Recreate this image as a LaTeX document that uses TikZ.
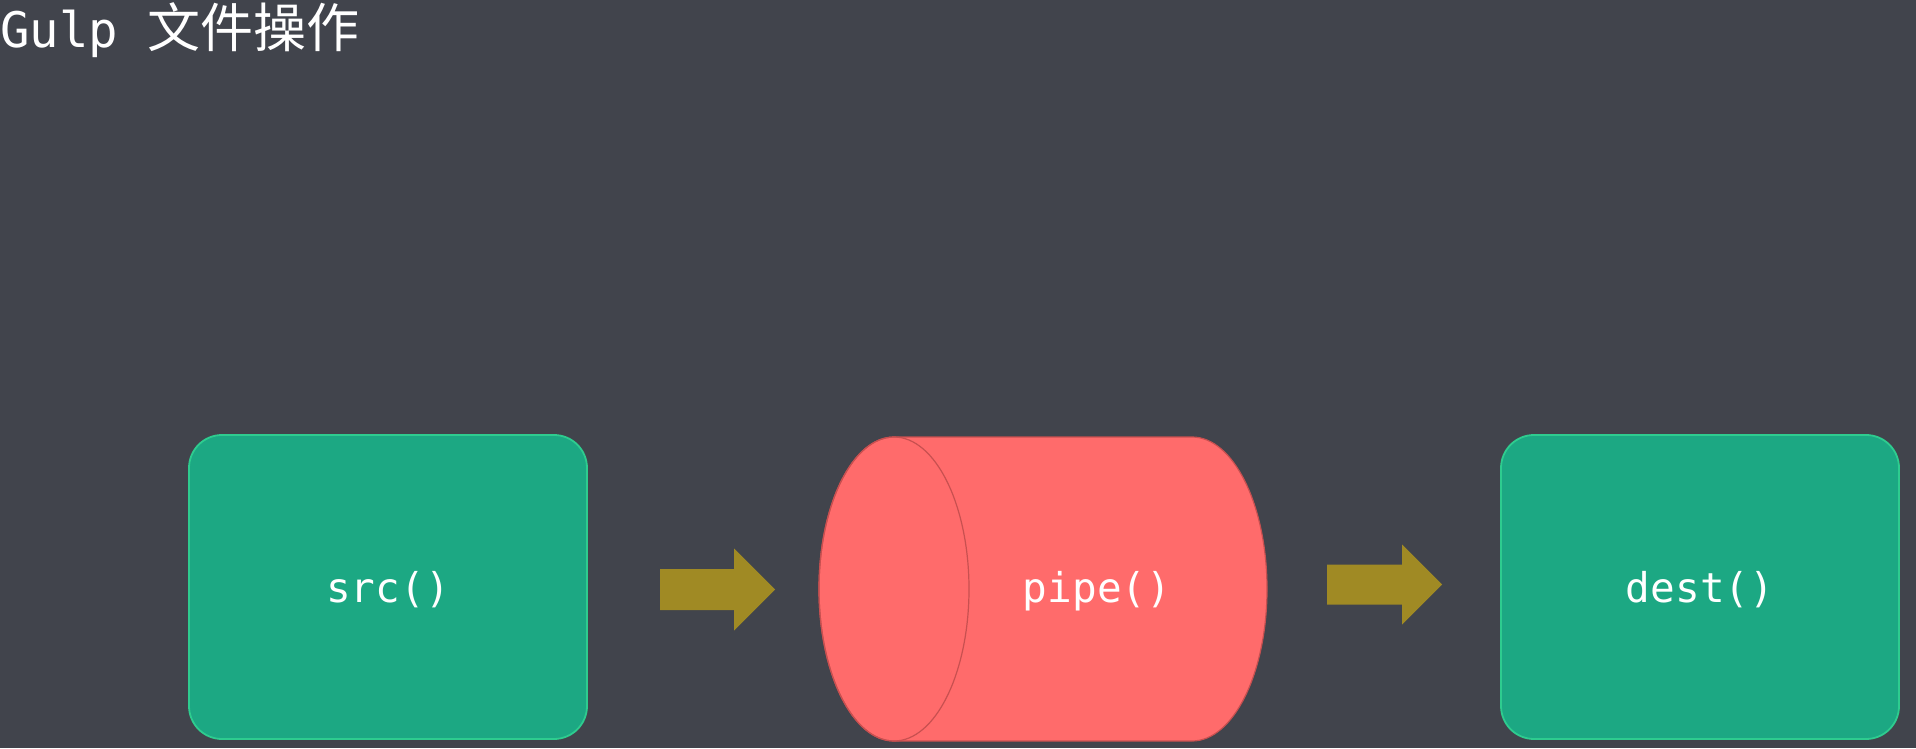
\documentclass[tikz,border=0pt]{standalone}
\usepackage{fontspec}
\setmonofont{DejaVu Sans Mono}
\newfontfamily\cjk{Noto Sans CJK SC}
\usepackage{tikz}
\usetikzlibrary{calc}

\definecolor{bgcol}{RGB}{65,68,76}
\definecolor{boxfill}{RGB}{28,168,131}
\definecolor{boxline}{RGB}{46,204,143}
\definecolor{cylfill}{RGB}{255,107,107}
\definecolor{cylline}{RGB}{200,80,80}
\definecolor{flowcol}{RGB}{160,138,36}

\begin{document}
\begin{tikzpicture}[x = 1pt, y = 1pt]
\tikzstyle{every node} = [text = white, inner sep = 0pt]
\tikzstyle{fname} = [font = \ttfamily\fontsize{41}{41}\selectfont]
\tikzstyle{box} = [draw = boxline, fill = boxfill, line width = 1.8pt, rounded corners = 33pt, minimum width = 398pt, minimum height = 304pt]
\tikzstyle{flow} = [fill = flowcol]

\fill[bgcol] (0, 0) rectangle (1916, 748);
\useasboundingbox (0, 0) rectangle (1916, 748);

\node[anchor = base west, font = \ttfamily\fontsize{49}{49}\selectfont] (title) at (0, 700) {Gulp {\cjk\fontsize{53}{53}\selectfont 文件操作}};

\node[box] (src) at (388, 161) {};
\node[fname] at ($(src) + (0, -3)$) {src()};
\node[box] (dest) at (1700, 161) {};
\node[fname] at ($(dest) + (0, -3)$) {dest()};

% pipe
\coordinate (pipeL) at (894, 159);
\coordinate (pipeR) at (1192, 159);
\filldraw[fill = cylfill, draw = cylline, line width = 1.2pt]
  ($(pipeL) + (0, 152)$) -- ($(pipeR) + (0, 152)$)
  arc[start angle = 90, end angle = -90, x radius = 75, y radius = 152]
  -- ($(pipeL) + (0, -152)$)
  arc[start angle = 270, end angle = 90, x radius = 75, y radius = 152] -- cycle;
\draw[cylline, line width = 1.2pt] (pipeL) ellipse [x radius = 75, y radius = 152];
\node[fname] (pipe) at (1097, 157) {pipe()};

% arrows
\coordinate (a1) at (660, 158.5);
\coordinate (a2) at (1327, 163.5);
\fill[flow] (a1) ++(0, 20.5) -- ++(74, 0) -- ++(0, 20.5) -- ++(41, -41)
  -- ++(-41, -41) -- ++(0, 20.5) -- ++(-74, 0) -- cycle;
\fill[flow] (a2) ++(0, 20) -- ++(75, 0) -- ++(0, 20) -- ++(40, -40)
  -- ++(-40, -40) -- ++(0, 20) -- ++(-75, 0) -- cycle;
\end{tikzpicture}
\end{document}
